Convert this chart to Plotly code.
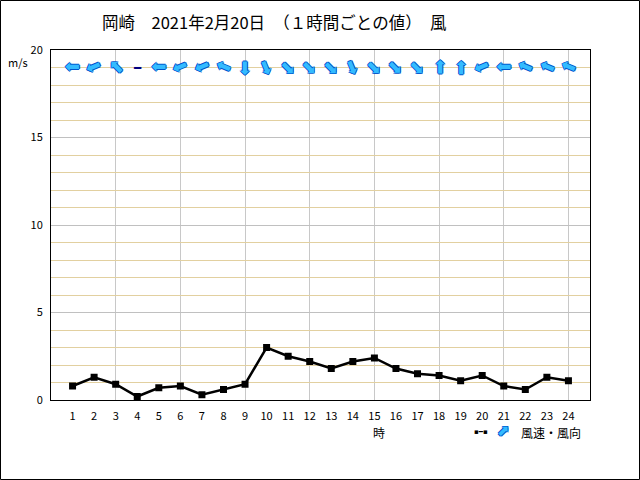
import plotly.graph_objects as go

hours = list(range(1, 25))
speed = [0.8, 1.3, 0.9, 0.2, 0.7, 0.8, 0.3, 0.6, 0.9, 3.0, 2.5, 2.2,
         1.8, 2.2, 2.4, 1.8, 1.5, 1.4, 1.1, 1.4, 0.8, 0.6, 1.3, 1.1]
# wind direction (degrees the wind blows FROM, N=0 clockwise); None = calm
direction = [90, 67.5, 135, None, 90, 67.5, 67.5, 112.5, 0, 337.5, 315, 315,
             315, 337.5, 315, 315, 315, 180, 180, 67.5, 90, 112.5, 112.5, 112.5]
arrow_row = 19
title = "岡崎　2021年2月20日　（１時間ごとの値）　風"

W, H = 640, 480
ML, MR, MT, MB = 51, 50, 50, 80
PW, PH = W - ML - MR, H - MT - MB

fig = go.Figure()
fig.add_trace(go.Scatter(
    x=hours, y=speed, mode="lines+markers",
    line=dict(color="black", width=2.5),
    marker=dict(symbol="square", size=7, color="black"),
    showlegend=False, hoverinfo="skip"))

OUTLINE = "1px 0 0 #0055cc, -1px 0 0 #0055cc, 0 1px 0 #0055cc, 0 -1px 0 #0055cc"

def wrap(a):
    return ((a + 180) % 360) - 180

annotations = []
FONT = "Noto Sans CJK JP, DejaVu Sans"
for h, d in zip(hours, direction):
    if d is None:
        annotations.append(dict(x=h, y=arrow_row, xref="x", yref="y", text="<b>━</b>",
                                showarrow=False, font=dict(size=12, color="#000080", family="DejaVu Sans")))
    else:
        annotations.append(dict(x=h, y=arrow_row, xref="x", yref="y", text="➡",
                                textangle=wrap(d + 90), showarrow=False,
                                xanchor="center", yanchor="middle",
                                font=dict(size=18, color="#33bbff", family="DejaVu Sans",
                                          shadow=OUTLINE)))

def px(x):
    return (x - ML) / PW

def py(y):
    return 1 - (y - MT) / PH

def lab(x, y, text, size=12, **kw):
    d = dict(x=px(x), y=py(y), xref="paper", yref="paper", text=text, showarrow=False,
             xanchor="center", yanchor="middle",
             font=dict(size=size, color="black", family=FONT))
    d.update(kw)
    return d

annotations += [
    lab(274, 22, title, 16.5),
    lab(18, 62, "m/s", 11),
    lab(379, 432, "時", 12),
    lab(481, 432, "▪━▪", 7, font=dict(size=7, color="black", family="DejaVu Sans")),
    lab(503, 431, "➡", 14, textangle=-45,
        font=dict(size=15, color="#33bbff", family="DejaVu Sans", shadow=OUTLINE)),
    lab(551, 432, "風速・風向", 12),
]

fig.update_layout(
    width=W, height=H,
    margin=dict(l=ML, r=MR, t=MT, b=MB),
    paper_bgcolor="white", plot_bgcolor="white",
    annotations=annotations,
    shapes=[dict(type="rect", xref="paper", yref="paper",
                 x0=px(0.5), x1=px(639.5), y0=py(479.5), y1=py(0.5),
                 line=dict(color="black", width=1), layer="above")],
    xaxis=dict(range=[0, 25], tickmode="array", tickvals=hours, ticktext=[str(h) for h in hours],
               showgrid=False, zeroline=False, ticks="", showline=True, linecolor="black",
               linewidth=1, mirror=True, ticklabelstandoff=6,
               tickfont=dict(size=11, color="black", family=FONT),
               minor=dict(tickmode="array", tickvals=[3, 6, 9, 12, 15, 18, 21, 24],
                          showgrid=True, gridcolor="#c8c8c8", gridwidth=1, ticks="")),
    yaxis=dict(range=[0, 20], tickmode="linear", tick0=0, dtick=5,
               showgrid=True, gridcolor="#c0c0c0", gridwidth=1, zeroline=False,
               ticks="", showline=True, linecolor="black", linewidth=1, mirror=True,
               ticklabelstandoff=5,
               tickfont=dict(size=11, color="black", family=FONT),
               minor=dict(dtick=1, showgrid=True, gridcolor="#e2d0a0", gridwidth=1, ticks="")),
)

post = """
document.body.style.margin='0';
var st = document.createElement('style');
st.textContent = 'svg path.ygrid, svg path.xgrid, svg [class*=grid] path {shape-rendering: crispEdges !important;}';
document.head.appendChild(st);
"""
fig.write_html("out.html", config={"displayModeBar": False}, post_script=post)
